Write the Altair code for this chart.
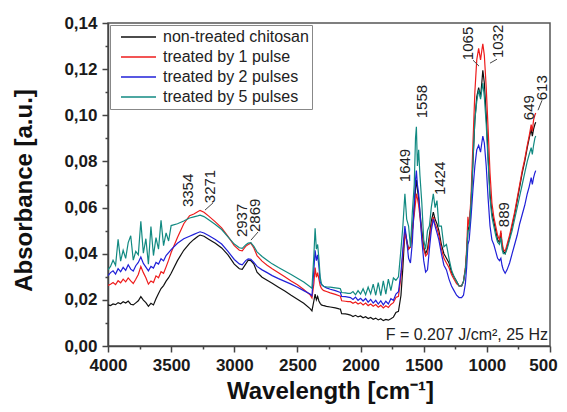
import altair as alt
import pandas as pd

# ---------------- data ----------------
series_names = ["non-treated chitosan", "treated by 1 pulse",
                "treated by 2 pulses", "treated by 5 pulses"]
series_colors = ["#111111", "#ee1c1c", "#2020d8", "#128a82"]

# wavenumber grid, section 1 (noisy O-H region)
wn_1 = [4000, 3980, 3960, 3940, 3920, 3900, 3880, 3860, 3840, 3820, 3800, 3780, 3760,
        3740, 3720, 3700, 3680, 3660, 3640, 3620, 3600, 3580, 3560, 3540, 3520, 3500]
black_1 = [0.0178, 0.0175, 0.0182, 0.0179, 0.0188, 0.0183, 0.0192, 0.0186, 0.0195, 0.0181, 0.0178, 0.0187, 0.0196,
           0.0214, 0.0199, 0.0188, 0.0172, 0.0185, 0.0178, 0.0205, 0.0228, 0.0249, 0.0262, 0.0281, 0.0296, 0.0315]
red_1 = [0.0262, 0.0268, 0.0275, 0.0266, 0.0283, 0.0274, 0.0290, 0.0278, 0.0295, 0.0282, 0.0271, 0.0289, 0.0310,
         0.0345, 0.0318, 0.0296, 0.0268, 0.0282, 0.0275, 0.0304, 0.0296, 0.0322, 0.0315, 0.0343, 0.0372, 0.0405]
blue_1 = [0.0305, 0.0318, 0.0326, 0.0312, 0.0335, 0.0322, 0.0341, 0.0328, 0.0352, 0.0333, 0.0325, 0.0348, 0.0362,
          0.0386, 0.0358, 0.0342, 0.0326, 0.0345, 0.0338, 0.0362, 0.0355, 0.0378, 0.0369, 0.0392, 0.0405, 0.0418]
teal_1 = [0.0330, 0.0345, 0.0372, 0.0350, 0.0462, 0.0368, 0.0415, 0.0380, 0.0448, 0.0478, 0.0372, 0.0410, 0.0395,
          0.0540, 0.0402, 0.0465, 0.0355, 0.0518, 0.0392, 0.0470, 0.0420, 0.0545, 0.0435, 0.0490, 0.0455, 0.0522]

# section 2 (3450 - 2100)
wn_2 = [3450, 3400, 3354, 3320, 3290, 3271, 3240, 3200, 3150, 3100, 3050, 3000, 2960, 2937, 2910,
        2890, 2869, 2845, 2820, 2780, 2740, 2700, 2650, 2600, 2550, 2500, 2450, 2400, 2385, 2370,
        2360, 2350, 2340, 2330, 2320, 2310, 2300, 2290, 2270, 2240, 2200, 2170, 2160, 2150, 2120, 2100]
black_2 = [0.0370, 0.0415, 0.0445, 0.0462, 0.0475, 0.0481, 0.0476, 0.0462, 0.0445, 0.0425, 0.0395, 0.0355, 0.0335, 0.0332, 0.0355,
           0.0372, 0.0370, 0.0355, 0.0320, 0.0298, 0.0285, 0.0272, 0.0255, 0.0238, 0.0220, 0.0203, 0.0185, 0.0162, 0.0152, 0.0195,
           0.0225, 0.0200, 0.0215, 0.0195, 0.0185, 0.0178, 0.0176, 0.0175, 0.0172, 0.0169, 0.0165, 0.0161, 0.0160, 0.0140, 0.0139, 0.0137]
red_2 = [0.0470, 0.0530, 0.0565, 0.0572, 0.0582, 0.0588, 0.0580, 0.0562, 0.0538, 0.0512, 0.0475, 0.0435, 0.0415, 0.0412, 0.0432,
         0.0440, 0.0446, 0.0425, 0.0392, 0.0368, 0.0350, 0.0335, 0.0318, 0.0300, 0.0282, 0.0265, 0.0245, 0.0222, 0.0208, 0.0270,
         0.0340, 0.0298, 0.0318, 0.0290, 0.0262, 0.0250, 0.0244, 0.0240, 0.0236, 0.0230, 0.0224, 0.0218, 0.0216, 0.0196, 0.0194, 0.0192]
blue_2 = [0.0445, 0.0465, 0.0476, 0.0484, 0.0491, 0.0495, 0.0490, 0.0478, 0.0462, 0.0442, 0.0410, 0.0375, 0.0356, 0.0352, 0.0370,
          0.0378, 0.0376, 0.0362, 0.0345, 0.0330, 0.0318, 0.0305, 0.0292, 0.0280, 0.0268, 0.0255, 0.0240, 0.0225, 0.0218, 0.0330,
          0.0415, 0.0370, 0.0395, 0.0345, 0.0280, 0.0266, 0.0262, 0.0258, 0.0252, 0.0246, 0.0240, 0.0234, 0.0232, 0.0215, 0.0214, 0.0212]
teal_2 = [0.0530, 0.0542, 0.0555, 0.0560, 0.0564, 0.0567, 0.0561, 0.0546, 0.0527, 0.0505, 0.0473, 0.0442, 0.0426, 0.0423, 0.0438,
          0.0446, 0.0448, 0.0432, 0.0408, 0.0388, 0.0372, 0.0356, 0.0340, 0.0325, 0.0310, 0.0294, 0.0277, 0.0257, 0.0250, 0.0390,
          0.0510, 0.0420, 0.0440, 0.0380, 0.0300, 0.0270, 0.0262, 0.0258, 0.0256, 0.0255, 0.0252, 0.0250, 0.0248, 0.0232, 0.0230, 0.0228]

# section 3 (noisy 2080 - 1720)
wn_3 = [2080, 2060, 2040, 2020, 2000, 1980, 1960, 1940, 1920, 1900, 1880, 1860, 1840, 1820, 1800, 1780, 1760, 1740, 1720]
black_3 = [0.0134, 0.0128, 0.0133, 0.0126, 0.0130, 0.0122, 0.0127, 0.0119, 0.0124, 0.0116, 0.0121, 0.0113, 0.0118, 0.0110, 0.0115, 0.0112, 0.0118, 0.0125, 0.0145]
red_3 = [0.0192, 0.0185, 0.0191, 0.0182, 0.0188, 0.0178, 0.0186, 0.0175, 0.0182, 0.0172, 0.0180, 0.0168, 0.0176, 0.0165, 0.0174, 0.0167, 0.0180, 0.0188, 0.0210]
blue_3 = [0.0210, 0.0202, 0.0212, 0.0198, 0.0207, 0.0195, 0.0206, 0.0190, 0.0202, 0.0186, 0.0198, 0.0182, 0.0196, 0.0178, 0.0194, 0.0182, 0.0205, 0.0198, 0.0225]
teal_3 = [0.0228, 0.0236, 0.0222, 0.0240, 0.0225, 0.0248, 0.0222, 0.0255, 0.0226, 0.0268, 0.0220, 0.0275, 0.0218, 0.0282, 0.0225, 0.0290, 0.0240, 0.0295, 0.0285]

# section 4 (fingerprint 1700 - 613)
wn_4 = [1700, 1680, 1665, 1649, 1635, 1620, 1605, 1590, 1575, 1565,
        1558, 1550, 1540, 1530, 1515, 1500, 1485, 1470, 1455, 1440,
        1424, 1410, 1395, 1380, 1360, 1340, 1320, 1300, 1280, 1260,
        1240, 1220, 1200, 1185, 1170, 1160, 1150, 1140, 1125, 1110,
        1095, 1080, 1065, 1050, 1040, 1032, 1020, 1005, 990, 975,
        960, 945, 930, 915, 900, 889, 880, 870, 855, 840,
        820, 800, 780, 760, 740, 720, 700, 680, 665, 649,
        640, 630, 620, 613]
black_4 = [0.0150, 0.0220, 0.0340, 0.0500, 0.0460, 0.0420, 0.0430, 0.0500, 0.0600, 0.0680,
           0.0720, 0.0680, 0.0640, 0.0580, 0.0500, 0.0430, 0.0400, 0.0420, 0.0480, 0.0540,
           0.0580, 0.0550, 0.0530, 0.0500, 0.0440, 0.0400, 0.0380, 0.0360, 0.0320, 0.0300,
           0.0280, 0.0260, 0.0260, 0.0280, 0.0330, 0.0400, 0.0500, 0.0520, 0.0620, 0.0800,
           0.0980, 0.1080, 0.1120, 0.1080, 0.1140, 0.1195, 0.1140, 0.1000, 0.0820, 0.0660,
           0.0580, 0.0540, 0.0500, 0.0460, 0.0450, 0.0490, 0.0440, 0.0410, 0.0400, 0.0430,
           0.0470, 0.0520, 0.0570, 0.0630, 0.0690, 0.0750, 0.0800, 0.0860, 0.0900, 0.0940,
           0.0910, 0.0940, 0.0960, 0.0970]
red_4 = [0.0215, 0.0300, 0.0400, 0.0490, 0.0450, 0.0420, 0.0430, 0.0500, 0.0570, 0.0620,
         0.0660, 0.0640, 0.0610, 0.0560, 0.0480, 0.0420, 0.0390, 0.0400, 0.0460, 0.0520,
         0.0560, 0.0530, 0.0510, 0.0480, 0.0420, 0.0380, 0.0360, 0.0340, 0.0310, 0.0290,
         0.0270, 0.0260, 0.0260, 0.0280, 0.0340, 0.0420, 0.0560, 0.0520, 0.0650, 0.0880,
         0.1100, 0.1240, 0.1290, 0.1240, 0.1280, 0.1310, 0.1260, 0.1120, 0.0940, 0.0750,
         0.0620, 0.0560, 0.0520, 0.0480, 0.0460, 0.0500, 0.0450, 0.0420, 0.0410, 0.0440,
         0.0480, 0.0530, 0.0580, 0.0640, 0.0700, 0.0760, 0.0810, 0.0870, 0.0910, 0.0960,
         0.0930, 0.0980, 0.1000, 0.1010]
blue_4 = [0.0235, 0.0320, 0.0420, 0.0520, 0.0460, 0.0380, 0.0360, 0.0450, 0.0620, 0.0720,
          0.0760, 0.0700, 0.0660, 0.0580, 0.0460, 0.0370, 0.0320, 0.0330, 0.0420, 0.0500,
          0.0550, 0.0520, 0.0490, 0.0460, 0.0400, 0.0350, 0.0330, 0.0290, 0.0260, 0.0240,
          0.0220, 0.0210, 0.0210, 0.0220, 0.0270, 0.0340, 0.0440, 0.0460, 0.0560, 0.0680,
          0.0780, 0.0850, 0.0870, 0.0840, 0.0880, 0.0910, 0.0880, 0.0780, 0.0640, 0.0520,
          0.0460, 0.0440, 0.0410, 0.0380, 0.0370, 0.0380, 0.0350, 0.0330, 0.0315, 0.0330,
          0.0360, 0.0400, 0.0440, 0.0480, 0.0530, 0.0570, 0.0610, 0.0660, 0.0690, 0.0730,
          0.0700, 0.0730, 0.0750, 0.0760]
teal_4 = [0.0300, 0.0420, 0.0520, 0.0660, 0.0550, 0.0520, 0.0430, 0.0580, 0.0700, 0.0900,
          0.0950, 0.0780, 0.0850, 0.0740, 0.0620, 0.0460, 0.0420, 0.0500, 0.0520, 0.0600,
          0.0660, 0.0600, 0.0630, 0.0520, 0.0520, 0.0430, 0.0440, 0.0380, 0.0330, 0.0300,
          0.0280, 0.0260, 0.0260, 0.0280, 0.0330, 0.0400, 0.0500, 0.0500, 0.0620, 0.0800,
          0.0980, 0.1060, 0.1110, 0.1070, 0.1110, 0.1140, 0.1080, 0.0960, 0.0800, 0.0640,
          0.0560, 0.0520, 0.0480, 0.0450, 0.0440, 0.0470, 0.0420, 0.0400, 0.0400, 0.0420,
          0.0460, 0.0500, 0.0550, 0.0600, 0.0650, 0.0700, 0.0750, 0.0800, 0.0830, 0.0860,
          0.0830, 0.0870, 0.0900, 0.0910]

# axis tick values
x_ticks = [4000, 3750, 3500, 3250, 3000, 2750, 2500, 2250, 2000, 1750, 1500, 1250, 1000, 750, 500]
y_ticks = [0.00, 0.01, 0.02, 0.03, 0.04, 0.05, 0.06, 0.07, 0.08, 0.09, 0.10, 0.11, 0.12, 0.13, 0.14]

# peak annotations: label, text anchor (wavenumber, absorbance)
ann_labels = ["3354", "3271", "2937", "2869", "1649", "1558", "1424", "1065", "1032", "889", "649", "613"]
ann_x = [3366, 3192, 2941, 2836, 1648, 1516, 1371, 1149, 912, 864, 666, 566]
ann_y = [0.0602, 0.0619, 0.0472, 0.0494, 0.0710, 0.0987, 0.0654, 0.1239, 0.1248, 0.0515, 0.0979, 0.1065]

# leader lines for some labels
lead_x = [3169, 2812, 1110, 920, 563]
lead_x2 = [3232, 2868, 1062, 975, 595]
lead_y = [0.0620, 0.0494, 0.1239, 0.1243, 0.1065]
lead_y2 = [0.0589, 0.0459, 0.1213, 0.1226, 0.1022]

note_text = ["F = 0.207 J/cm², 25 Hz"]
note_x = [516]
note_y = [0.0026]

# ---------------- build tables ----------------
wn_all = wn_1 + wn_2 + wn_3 + wn_4
values = {
    series_names[0]: black_1 + black_2 + black_3 + black_4,
    series_names[1]: red_1 + red_2 + red_3 + red_4,
    series_names[2]: blue_1 + blue_2 + blue_3 + blue_4,
    series_names[3]: teal_1 + teal_2 + teal_3 + teal_4,
}
rows = []
for name in series_names:
    for w, v in zip(wn_all, values[name]):
        rows.append({"wn": w, "abs": v, "series": name})
df = pd.DataFrame(rows)

ann_df = pd.DataFrame({"label": ann_labels, "x": ann_x, "y": ann_y})
lead_df = pd.DataFrame({"x": lead_x, "x2": lead_x2, "y": lead_y, "y2": lead_y2})
note_df = pd.DataFrame({"text": note_text, "x": note_x, "y": note_y})

FONT = "Liberation Sans"

x_scale = alt.Scale(domain=[500, 4000], reverse=True, nice=False, zero=False)
y_scale = alt.Scale(domain=[0, 0.14], nice=False)

x_axis = alt.Axis(
    values=x_ticks, format="d",
    labelExpr="datum.value % 500 === 0 ? datum.label : ''",
    tickSize={"condition": {"test": "datum.value % 500 === 0", "value": 6}, "value": 3},
    labelOffset={"condition": {"test": "datum.value === 500", "value": -7}, "value": 0},
    labelPadding=5, labelOverlap=False, labelFlush=False,
    title="Wavelength [cm⁻¹]", titleX=222, titleY=52, titleBaseline="alphabetic",
    titleAlign="center", titleAnchor="middle",
)
y_axis = alt.Axis(
    values=y_ticks,
    labelExpr="round(datum.value*100) % 2 === 0 ? replace(format(datum.value, '.2f'), '.', ',') : ''",
    tickSize={"condition": {"test": "round(datum.value*100) % 2 === 0", "value": 6}, "value": 3},
    labelPadding=5, labelOverlap=False, labelFlush=False,
    title="Absorbance [a.u.]", titleX=-84, titleY=167, titleAngle=270,
    titleBaseline="middle", titleAlign="center", titleAnchor="middle",
)


def X(field):
    return alt.X(field, type="quantitative", scale=x_scale, axis=x_axis)


def Y(field):
    return alt.Y(field, type="quantitative", scale=y_scale, axis=y_axis)


color_enc = alt.Color(
    "series:N",
    scale=alt.Scale(domain=series_names, range=series_colors),
    legend=alt.Legend(
        title=None, orient="none", legendX=2, legendY=2,
        symbolType="stroke", symbolSize=1225, symbolStrokeWidth=1.3,
        clipHeight=18, rowPadding=2,
        labelFont=FONT, labelFontSize=16, labelColor="#222", labelOffset=6,
        strokeColor="#888", fillColor="white", padding=3, symbolOffset=7,
    ),
)

layers = []
for name in series_names:
    layers.append(
        alt.Chart(df).transform_filter(alt.datum.series == name).mark_line(
            strokeWidth=1.2, clip=True
        ).encode(x=X("wn"), y=Y("abs"), color=color_enc)
    )

ann = alt.Chart(ann_df).mark_text(
    angle=270, align="left", baseline="middle", font=FONT, fontSize=15, color="#222"
).encode(x=X("x"), y=Y("y"), text="label:N")

leads = alt.Chart(lead_df).mark_rule(color="#444", strokeWidth=1).encode(
    x=X("x"), x2="x2:Q", y=Y("y"), y2="y2:Q",
)

note = alt.Chart(note_df).mark_text(
    align="right", baseline="alphabetic", font=FONT, fontSize=16, color="#222"
).encode(x=X("x"), y=Y("y"), text="text:N")

chart = alt.layer(*layers, leads, ann, note).properties(
    width=442, height=323,
    padding={"left": 100, "top": 15, "right": 9, "bottom": 58},
    autosize=alt.AutoSizeParams(type="none"),
    background="white",
).configure_view(
    stroke="#555", strokeWidth=1.5
).configure_axis(
    labelFont=FONT, labelFontWeight="bold", labelFontSize=17, labelColor="#1a1a1a",
    titleFont=FONT, titleFontWeight="bold", titleFontSize=24, titleColor="#111",
    domainColor="#444", domainWidth=1.5, tickColor="#444", tickWidth=1.5, grid=False,
)

chart.save("out.html", embed_options={"renderer": "svg", "actions": False})
